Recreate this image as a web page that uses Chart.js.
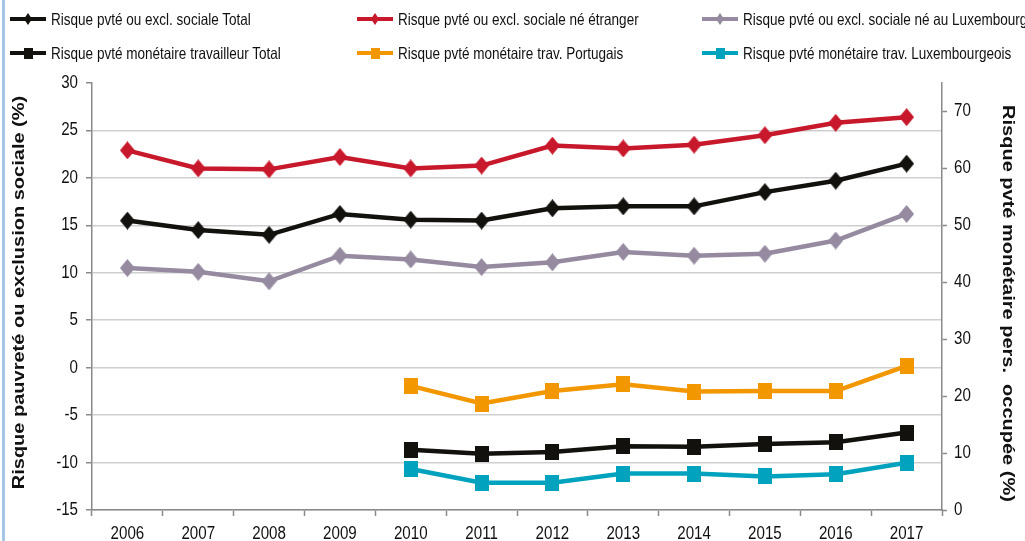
<!DOCTYPE html>
<html><head><meta charset="utf-8">
<script src="https://cdn.jsdelivr.net/npm/chart.js@4/dist/chart.umd.min.js"></script>
<style>
body{margin:0;background:#fff;}
#wrap{position:relative;width:1025px;height:541px;overflow:hidden;background:#fff}
#edge{position:absolute;left:2px;top:0;width:3px;height:541px;background:#a6c6e7;z-index:2}
#c{position:absolute;left:0;top:0}
.lg{position:absolute;height:20px;white-space:nowrap;z-index:3}
.lg canvas{position:absolute;left:0;top:0}
.lg span{position:absolute;top:0px;font-family:"Liberation Sans",Arial,sans-serif;font-size:16.5px;line-height:20px;color:#111;transform:scaleX(0.82);transform-origin:0 50%}
</style>
</head><body>
<div id="wrap"><div id="edge"></div><canvas id="c" width="1025" height="541"></canvas></div>
<script>
// ---- data ----
const years = ['2006','2007','2008','2009','2010','2011','2012','2013','2014','2015','2016','2017'];
const aropeTotal   = [15.5,14.5,14.0,16.2,15.6,15.5,16.8,17.0,17.0,18.5,19.7,21.5];
const aropeForeign = [22.9,21.0,20.9,22.2,21.0,21.3,23.4,23.1,23.5,24.5,25.8,26.4];
const aropeLux     = [10.5,10.1,9.1,11.8,11.4,10.6,11.1,12.2,11.8,12.0,13.4,16.2];
const inworkTotal  = [null,null,null,null,10.6,9.9,10.2,11.2,11.1,11.6,11.9,13.6];
const inworkPT     = [null,null,null,null,21.8,18.7,20.9,22.1,20.8,20.9,20.9,25.3];
const inworkLU     = [null,null,null,null,7.2,4.8,4.8,6.4,6.4,5.9,6.3,8.3];
const seriesNames = [
  'Risque pvté ou excl. sociale Total',
  'Risque pvté ou excl. sociale né étranger',
  'Risque pvté ou excl. sociale né au Luxembourg',
  'Risque pvté monétaire travailleur Total',
  'Risque pvté monétaire trav. Portugais',
  'Risque pvté monétaire trav. Luxembourgeois'
];
const leftTitle = 'Risque pauvreté ou exclusion sociale (%)';
const rightTitle = 'Risque pvté monétaire pers.  occupée (%)';

// ---- styles ----
const TICKFONT = '"SqX","Liberation Sans",Arial,sans-serif';   // condensed horizontally
const TITLEFONT = '"SqT","Liberation Sans",Arial,sans-serif';  // stretched along text
const colors = ['#13110e','#c8182b','#958aa0','#13110e','#f39700','#00a2be'];
const shapes = ['d','d','d','s','s','s'];

function marker(shape, color, w, h){
  const cv = document.createElement('canvas');
  cv.width = w; cv.height = h;
  const g = cv.getContext('2d');
  g.fillStyle = color;
  if (shape === 'd'){
    g.beginPath(); g.moveTo(w/2,0); g.lineTo(w,h/2); g.lineTo(w/2,h); g.lineTo(0,h/2); g.closePath(); g.fill();
  } else {
    g.fillRect(0,0,w,h);
  }
  return cv;
}

// ---- legend (HTML) ----
const legendPos = [[10,9],[357,9],[702,9],[10,43],[357,43],[702,43]];
seriesNames.forEach((name,i)=>{
  const d = document.createElement('div'); d.className='lg';
  d.style.left = legendPos[i][0]+'px'; d.style.top = legendPos[i][1]+'px';
  const cv = document.createElement('canvas'); cv.width=38; cv.height=20;
  const g = cv.getContext('2d');
  g.fillStyle = colors[i]; g.fillRect(0,8,36,4);
  const m = shapes[i]==='d' ? marker('d',colors[i],8,12) : marker('s',colors[i],9,11);
  g.drawImage(m, 18-m.width/2, 10-m.height/2);
  d.appendChild(cv);
  const s = document.createElement('span'); s.textContent = name; s.style.left='41px';
  d.appendChild(s);
  document.getElementById('wrap').appendChild(d);
});

// ---- text aspect helper (reference picture is vertically stretched) ----
const canvas = document.getElementById('c');
const cx = canvas.getContext('2d');
const origFill = cx.fillText.bind(cx);
cx.fillText = function(text, x, y, maxWidth){
  const f = this.font;
  let k = 1, shift = 0;
  if (f.indexOf('SqX') >= 0) k = 0.84;
  else if (f.indexOf('SqT') >= 0) { k = 1.25; shift = (text === rightTitle) ? 7 : 4; }
  if (k === 1) return maxWidth === undefined ? origFill(text, x, y) : origFill(text, x, y, maxWidth);
  this.save(); this.translate(x + shift, y); this.scale(k, 1); origFill(text, 0, 0); this.restore();
};

// ---- chart ----
const dataArr = [aropeTotal, aropeForeign, aropeLux, inworkTotal, inworkPT, inworkLU];
const datasets = dataArr.map((arr,i)=>({
  label: seriesNames[i],
  data: arr,
  yAxisID: i < 3 ? 'y' : 'y1',
  borderColor: colors[i],
  backgroundColor: colors[i],
  borderWidth: 4.5,
  pointStyle: shapes[i]==='d' ? marker('d',colors[i],15,18) : marker('s',colors[i],14,16),
  pointRadius: 8,
  tension: 0,
  spanGaps: false,
  order: 6 - i
}));

const AX = '#8a8a8a';
new Chart(canvas, {
  type: 'line',
  data: { labels: years, datasets },
  options: {
    responsive: false,
    animation: false,
    events: [],
    layout: { padding: { top: 83, left: 0, right: 0, bottom: 0 } },
    plugins: { legend: { display: false }, tooltip: { enabled: false } },
    scales: {
      x: {
        offset: true,
        grid: { offset: true, drawOnChartArea: false, drawTicks: true, tickLength: 6, tickColor: AX, tickWidth: 1.5 },
        border: { color: AX, width: 1.5 },
        ticks: { font: { family: TICKFONT, size: 18 }, color: '#111', padding: 7, maxRotation: 0, autoSkip: false },
        afterFit: s => { s.height = 31; }
      },
      y: {
        position: 'left', min: -15, max: 30,
        ticks: { stepSize: 5, font: { family: TICKFONT, size: 18 }, color: '#111', padding: 8 },
        grid: { color: c => (c.tick && c.tick.value === 30) ? 'rgba(0,0,0,0)' : '#cfcfcf', lineWidth: 1.5, tickLength: 6, tickColor: AX, tickWidth: 1.5 },
        border: { color: AX, width: 1.5 },
        title: { display: true, text: leftTitle, font: { family: TITLEFONT, weight: 'bold', size: 16 }, color: '#111', padding: { top: 10, bottom: 0 } },
        afterFit: s => { s.width = 92; }
      },
      y1: {
        position: 'right', min: 0, max: 75,
        ticks: { stepSize: 10, includeBounds: false, font: { family: TICKFONT, size: 18 }, color: '#111', padding: 7 },
        grid: { drawOnChartArea: false, tickLength: 5, tickColor: AX, tickWidth: 1.5 },
        border: { color: AX, width: 1.5 },
        title: { display: true, text: rightTitle, font: { family: TITLEFONT, weight: 'bold', size: 16 }, color: '#111', padding: { top: 8, bottom: 0 } },
        afterFit: s => { s.width = 83; }
      }
    }
  }
});
</script>
</body></html>
